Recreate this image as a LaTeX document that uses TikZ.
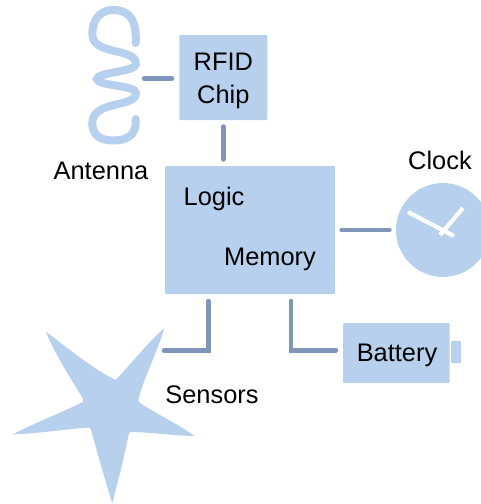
\documentclass[tikz,border=0pt]{standalone}
\usepackage{fontspec}
\setmainfont{Liberation Sans}
\definecolor{shapeblue}{HTML}{B7D0EE}
\definecolor{wireblue}{HTML}{7F95BA}
\tikzset{
  box/.style={draw=none,fill=shapeblue,rounded corners=1pt,inner sep=0pt,outer sep=6.5pt},
  wire/.style={draw=wireblue,line width=4.4pt,line cap=round,line join=miter},
  lab/.style={font=\fontsize{25.4}{33}\selectfont,text=black,inner sep=0pt,align=center},
  hand/.style={draw=white,line width=4.2pt}
}
\begin{document}
\begin{tikzpicture}[x=1pt,y=-1pt]
\useasboundingbox (0,0) rectangle (481,504);
\clip (0,0) rectangle (481,504);
% antenna
\draw[shapeblue,line width=8pt,line cap=round]
  (135.7,43) .. controls (136.5,25) and (133,10) .. (113,10)
  .. controls (100,10) and (92.3,20) .. (92.3,34)
  .. controls (92.3,56) and (136,47) .. (136,64)
  .. controls (136,72) and (97,72) .. (97,79)
  .. controls (97,86) and (136,85) .. (136,93)
  .. controls (136,108) and (92.3,100) .. (92.3,123)
  .. controls (92.3,135) and (100,140.5) .. (113,140.5)
  .. controls (131,140.5) and (136.5,132) .. (135.7,119);
% star
\fill[shapeblue]
  (46,331.7) .. controls (70,350) and (95,370) .. (113,378.5)
  .. controls (114.5,380) and (116,380) .. (117,378.5)
  .. controls (130,365) and (150,340) .. (164.3,328.3)
  .. controls (158,350) and (145,375) .. (138.5,399)
  .. controls (138,401) and (138.5,402) .. (140,403)
  .. controls (155,413) and (180,425) .. (194.3,436)
  .. controls (175,436) and (150,432) .. (131,432)
  .. controls (129.5,432) and (129,433) .. (128.5,435)
  .. controls (125,455) and (118,480) .. (112.3,503.3)
  .. controls (105,480) and (98,455) .. (91,430)
  .. controls (90.5,428) and (90,427.5) .. (88,427.7)
  .. controls (65,429) and (35,434) .. (12.7,434.3)
  .. controls (35,423) and (60,413) .. (81,403)
  .. controls (83.5,402) and (84,401) .. (83,399)
  .. controls (72,380) and (55,355) .. (46,331.7) -- cycle;
% boxes
\node[box,minimum width=88pt,minimum height=85pt] (chip) at (223.3,77.5) {};
\node[lab] (chiptext) at (223.3,81) {RFID\\Chip};
\node[box,minimum width=170pt,minimum height=128pt] (main) at (250,230) {};
\node[box,minimum width=106.5pt,minimum height=60pt] (battery) at (396.3,353) {};
\node[box,outer sep=0pt,minimum width=10pt,minimum height=22pt] (terminal) at (456,352) {};
\node[circle,fill=shapeblue,inner sep=0pt,minimum size=94pt,outer sep=6.5pt] (clock) at (443,230) {};
% clock hands
\coordinate (hourA) at (408,212); \coordinate (hourB) at (454,236);
\coordinate (minA) at (463,208); \coordinate (minB) at (440,235);
\draw[hand] (hourA) -- (hourB);
\draw[hand] (minA) -- (minB);
% connector ends
\coordinate (antennaEnd) at (144,78.5);
\coordinate (chipEnd) at (172,78.5);
\coordinate (sensorTop) at (208.5,301);
\coordinate (sensorEnd) at (164,350.3);
\coordinate (batteryTop) at (291,301);
\coordinate (batteryEnd) at (336,350.3);
\draw[wire] (antennaEnd) -- (chipEnd);
\draw[wire] (chip.south) -- (chip.south |- main.north);
\draw[wire] (main.east) -- (clock.west);
\draw[wire] (sensorTop) |- (sensorEnd);
\draw[wire] (batteryTop) |- (batteryEnd);
% labels
\node[lab] (antenna) at (101,171) {Antenna};
\node[lab] (clocklab) at (440,160) {Clock};
\node[lab] (logic) at (214,199) {Logic};
\node[lab] (memory) at (270,259) {Memory};
\node[lab] (sensors) at (212,395) {Sensors};
\node[lab] (batterylab) at (397,355) {Battery};
\end{tikzpicture}
\end{document}
